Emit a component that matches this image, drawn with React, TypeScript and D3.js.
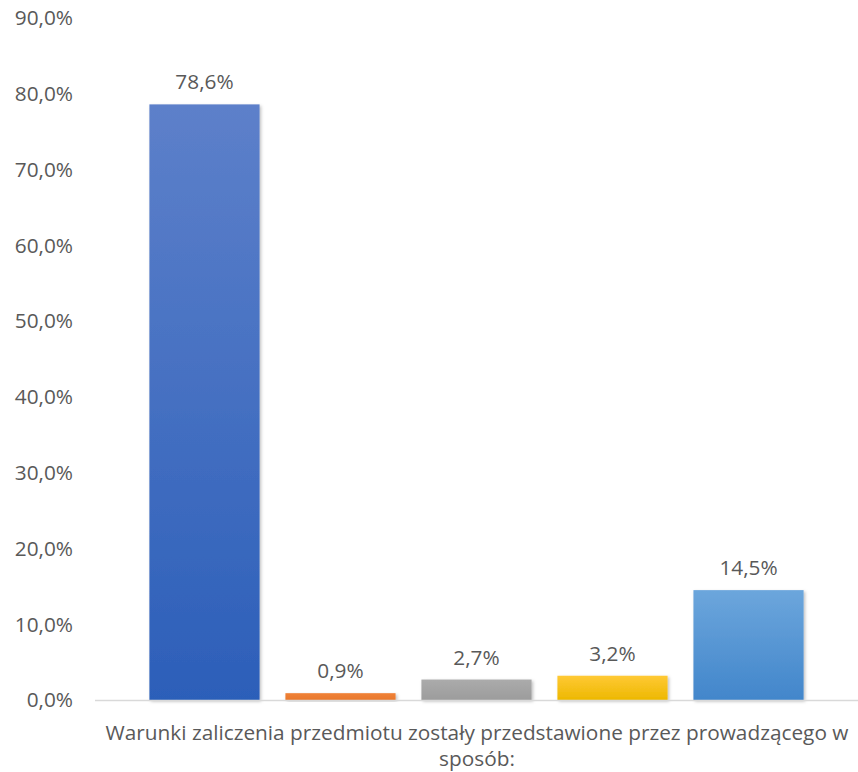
import { useRef, useEffect } from "react"
import * as d3 from "d3"

const series = ["s1", "s2", "s3", "s4", "s5"]
const values = [78.6, 0.9, 2.7, 3.2, 14.5]
const yTicks = [0, 10, 20, 30, 40, 50, 60, 70, 80, 90]
const categoryLines = [
  "Warunki zaliczenia przedmiotu zostały przedstawione przez prowadzącego w",
  "sposób:",
]
const gradients = [
  ["#5D80CA", "#2C5FB9"],
  ["#F08238", "#E8782C"],
  ["#ABABAB", "#9C9C9C"],
  ["#FFC935", "#EDB800"],
  ["#6CA6DC", "#4286CB"],
]

export default function App() {
  const svgRef = useRef<SVGSVGElement>(null)

  function drawChart() {
    const width = 858
    const height = 772
    const fontFamily = "'Open Sans', 'Noto Sans', sans-serif"
    const fontSize = "20.8px"
    const textColor = "#595959"

    const svg = d3.select(svgRef.current).attr("width", width).attr("height", height)
    svg.selectAll("*").remove()

    const y = d3.scaleLinear().domain([0, 90]).range([700, 18])
    const x = d3.scaleBand().domain(series).range([95, 858]).paddingInner(0.19).paddingOuter(0.4)

    const defs = svg.append("defs")
    gradients.forEach((g, i) => {
      const lg = defs
        .append("linearGradient")
        .attr("id", `grad${i}`)
        .attr("x1", 0)
        .attr("y1", 0)
        .attr("x2", 0)
        .attr("y2", 1)
      lg.append("stop").attr("offset", "0%").attr("stop-color", g[0])
      lg.append("stop").attr("offset", "100%").attr("stop-color", g[1])
    })
    const filter = defs.append("filter").attr("id", "shadow").attr("x", "-10%").attr("y", "-10%").attr("width", "130%").attr("height", "130%")
    filter
      .append("feDropShadow")
      .attr("dx", 1.5)
      .attr("dy", 1.5)
      .attr("stdDeviation", 1.5)
      .attr("flood-color", "#000")
      .attr("flood-opacity", 0.25)

    // Y axis labels
    svg
      .append("g")
      .selectAll("text")
      .data(yTicks)
      .enter()
      .append("text")
      .text((d) => d3.format(".1f")(d).replace(".", ",") + "%")
      .attr("x", 73)
      .attr("y", (d) => y(d))
      .attr("dy", "0.35em")
      .attr("text-anchor", "end")
      .style("font-size", fontSize)
      .style("font-family", fontFamily)
      .attr("fill", textColor)

    // Bars
    svg
      .append("g")
      .selectAll("rect")
      .data(values)
      .enter()
      .append("rect")
      .attr("x", (d, i) => x(series[i])!)
      .attr("y", (d) => y(d))
      .attr("width", x.bandwidth())
      .attr("height", (d) => y(0) - y(d))
      .attr("fill", (d, i) => `url(#grad${i})`)
      .attr("filter", "url(#shadow)")

    // Axis line
    svg
      .append("line")
      .attr("x1", 95)
      .attr("x2", 858)
      .attr("y1", y(0) + 0.5)
      .attr("y2", y(0) + 0.5)
      .attr("stroke", "#D9D9D9")
      .attr("stroke-width", 1.5)

    // Data labels
    svg
      .append("g")
      .selectAll("text")
      .data(values)
      .enter()
      .append("text")
      .text((d) => d3.format(".1f")(d).replace(".", ",") + "%")
      .attr("x", (d, i) => x(series[i])! + x.bandwidth() / 2)
      .attr("y", (d) => y(d) - 15)
      .attr("text-anchor", "middle")
      .style("font-size", fontSize)
      .style("font-family", fontFamily)
      .attr("fill", textColor)

    // Category label
    svg
      .append("g")
      .selectAll("text")
      .data(categoryLines)
      .enter()
      .append("text")
      .text((d) => d)
      .attr("x", 477)
      .attr("y", (d, i) => 740 + i * 26)
      .attr("text-anchor", "middle")
      .style("font-size", fontSize)
      .style("font-family", fontFamily)
      .attr("fill", textColor)
  }

  useEffect(() => {
    drawChart()
  }, [svgRef])

  return (
    <div style={{ position: "absolute", left: 0, top: 0 }}>
      <svg ref={svgRef} style={{ display: "block" }}></svg>
    </div>
  )
}
